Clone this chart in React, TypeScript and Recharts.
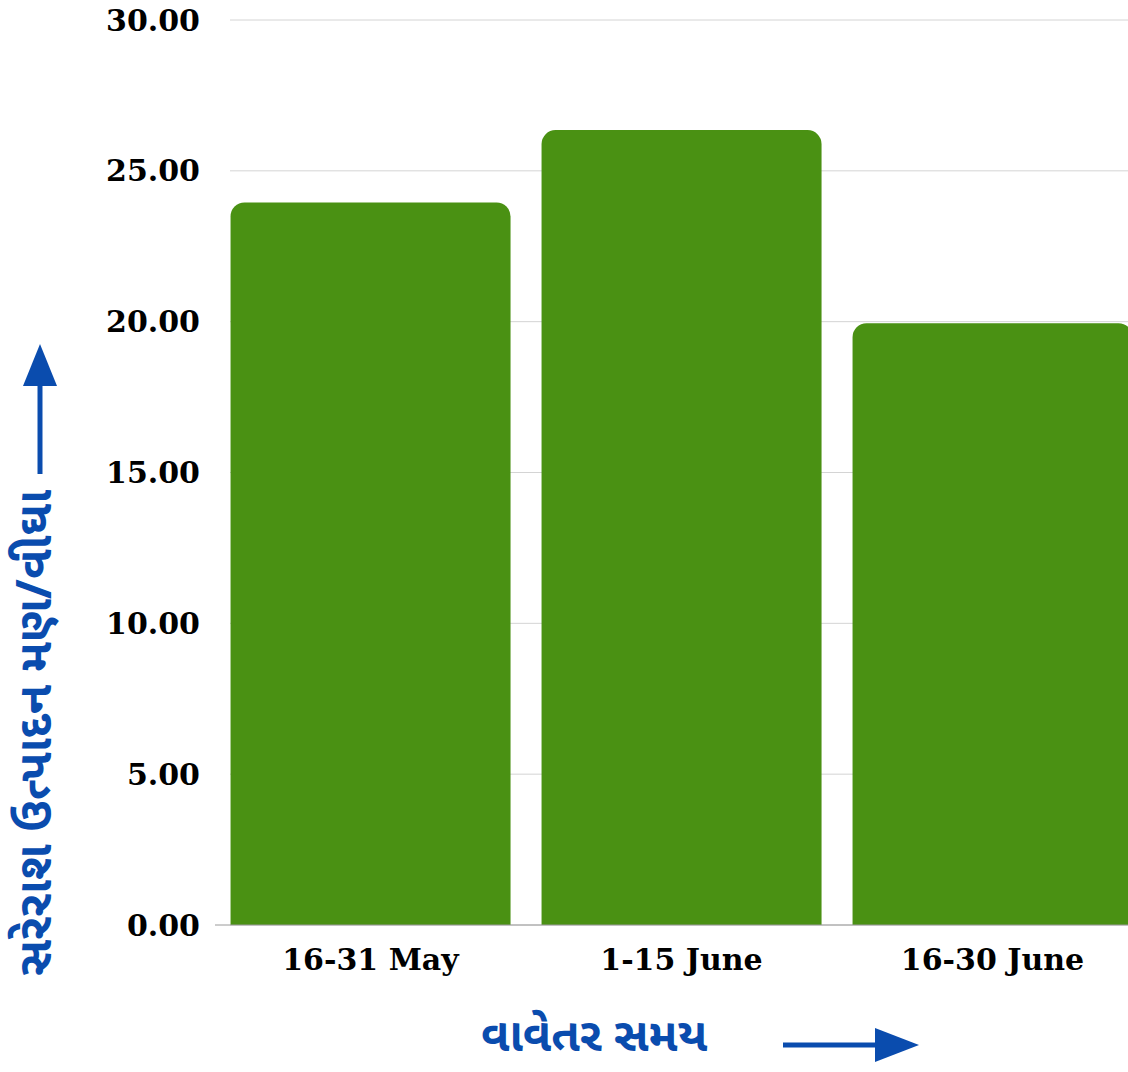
import { BarChart, Bar, XAxis, YAxis, CartesianGrid } from 'recharts'

// ── data ────────────────────────────────────────────────────────────────────

const periods = ['16-31 May', '1-15 June', '16-30 June']
const yieldValues = [23.95, 26.35, 19.95]
const yTicks = [0, 5, 10, 15, 20, 25, 30]

const data = periods.map((p, i) => ({ period: p, value: yieldValues[i] }))

const BLUE = '#0a4cae'
const GREEN = '#4a9113'
const SERIF = '"DejaVu Serif", "Liberation Serif", serif'
const GUJ = '"Noto Sans Gujarati", "Noto Sans", sans-serif'

export default function App() {
  return (
    <div style={{ position: 'absolute', left: 0, top: 0, width: 1128, height: 1072, background: '#fff' }}>
      <div style={{ width: 1128, height: 1072, overflow: 'hidden' }}>
        <BarChart
          width={1148}
          height={1072}
          data={data}
          margin={{ top: 20, right: 0, left: 0, bottom: 87 }}
          barCategoryGap="5%"
        >
          <CartesianGrid vertical={false} stroke="#d4d4d4" x={230} width={918} />
          <XAxis
            dataKey="period"
            height={60}
            tickSize={0}
            tickMargin={24}
            axisLine={{ stroke: '#9a9a9a' }}
            tick={{ fill: '#000', fontSize: 30, fontWeight: 700, fontFamily: SERIF }}
          />
          <YAxis
            width={215}
            domain={[0, 30]}
            ticks={yTicks}
            tickFormatter={(v: number) => v.toFixed(2)}
            tickSize={0}
            tickMargin={15}
            axisLine={false}
            tick={{ fill: '#000', fontSize: 30, fontWeight: 700, fontFamily: SERIF }}
          />
          <Bar dataKey="value" fill={GREEN} radius={[14, 14, 0, 0]} isAnimationActive={false} />
        </BarChart>
      </div>

      {/* y axis title with arrow */}
      <div
        style={{
          position: 'absolute',
          left: 40,
          top: 733,
          transform: 'translate(-50%, -50%) rotate(-90deg)',
          whiteSpace: 'nowrap',
          color: BLUE,
          fontFamily: GUJ,
          fontWeight: 700,
          fontSize: 48,
          lineHeight: 1.3,
        }}
      >
        સરેરાશ ઉત્પાદન મણ/વીઘા
      </div>
      <svg style={{ position: 'absolute', left: 20, top: 340 }} width={40} height={135}>
        <line x1={20} y1={30} x2={20} y2={134} stroke={BLUE} strokeWidth={5} />
        <polygon points="20,4 3,46 37,46" fill={BLUE} />
      </svg>

      {/* x axis title with arrow */}
      <div
        style={{
          position: 'absolute',
          left: 481,
          top: 1013,
          height: 54,
          display: 'flex',
          alignItems: 'center',
          whiteSpace: 'nowrap',
          color: BLUE,
          fontFamily: GUJ,
          fontWeight: 700,
          fontSize: 46,
          lineHeight: 1.1,
        }}
      >
        વાવેતર સમય
      </div>
      <svg style={{ position: 'absolute', left: 780, top: 1025 }} width={145} height={40}>
        <line x1={3} y1={20} x2={110} y2={20} stroke={BLUE} strokeWidth={5} />
        <polygon points="139,20 95,3 95,37" fill={BLUE} />
      </svg>
    </div>
  )
}
